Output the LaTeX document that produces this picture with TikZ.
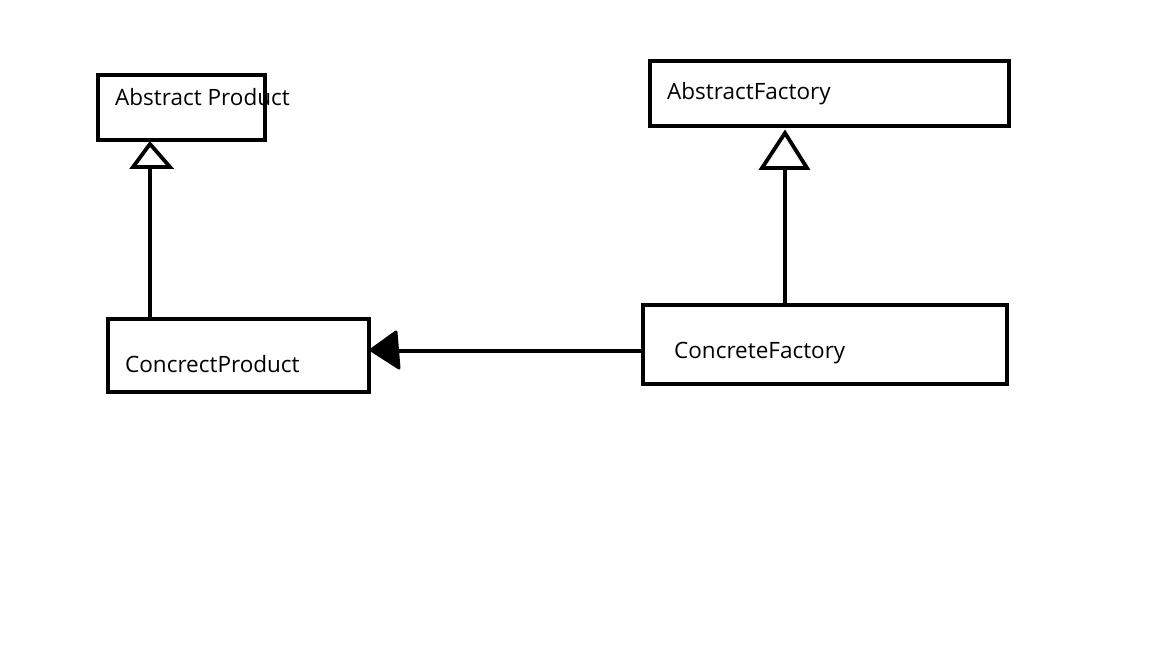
\documentclass[tikz,border=0pt]{standalone}
\usepackage{fontspec}
\setmainfont{Open Sans}
\usetikzlibrary{positioning}
\begin{document}
\begin{tikzpicture}[x=1pt,y=-1pt,
  cls/.style={draw=black,line width=4.5pt,inner sep=0pt,outer sep=0pt},
  lbl/.style={anchor=base west,inner sep=0pt,font=\fontsize{22.5}{26}\selectfont},
  conn/.style={line width=4.5pt},
  hollow/.style={draw=black,fill=white,line width=3.8pt,line join=miter},
  solid/.style={draw=black,fill=black,line width=3pt,line join=round}]
\useasboundingbox (0,0) rectangle (1152,648);
\fill[white] (0,0) rectangle (1152,648);
% boxes
\node[cls,minimum width=167pt,minimum height=65pt,anchor=north west] (ap) at (98,75) {};
\node[cls,minimum width=359pt,minimum height=65pt,anchor=north west] (af) at (650,61) {};
\node[cls,minimum width=261pt,minimum height=73pt,anchor=north west] (cp) at (108,319) {};
\node[cls,minimum width=364pt,minimum height=79pt,anchor=north west] (cf) at (643,305) {};
% labels
\node[lbl] (apt) at (115,105) {Abstract Product};
\node[lbl] (aft) at (667,99) {AbstractFactory};
\node[lbl] (cpt) at (125,372) {ConcrectProduct};
\node[lbl] (cft) at (674,358) {ConcreteFactory};
% left inheritance
\coordinate (t1a) at (150,144);
\coordinate (t1b) at (150,167);
\draw[conn] (t1b) -- (cp.north -| t1b);
\draw[hollow] (t1a) -- (133,167) -- (170,167) -- cycle;
% right inheritance
\coordinate (t2a) at (785,133);
\coordinate (t2b) at (785,168);
\draw[conn] (t2b) -- (cf.north -| t2b);
\draw[hollow] (t2a) -- (762,168) -- (807,168) -- cycle;
% horizontal association
\coordinate (t3a) at (371,350);
\coordinate (t3b) at (398,351);
\draw[conn] (cf.west |- t3b) -- (t3b);
\draw[solid] (t3a) -- (396,332) -- (399,368) -- cycle;
\end{tikzpicture}
\end{document}
